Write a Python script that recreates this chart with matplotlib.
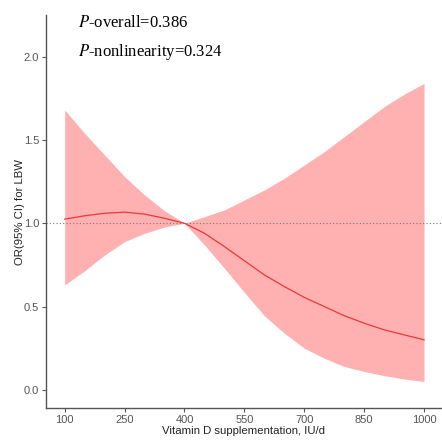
import numpy as np
import matplotlib
matplotlib.use("Agg")
import matplotlib.pyplot as plt

# values
dose = [100, 150, 200, 250, 300, 350, 400, 450, 500, 550, 600, 650, 700, 750, 800, 850, 900, 950, 1000]
odds = [1.025, 1.045, 1.06, 1.067, 1.055, 1.03, 1.0, 0.94, 0.86, 0.775, 0.69, 0.62, 0.555, 0.50, 0.445, 0.40, 0.36, 0.33, 0.30]
upper = [1.68, 1.54, 1.41, 1.28, 1.17, 1.075, 1.0, 1.04, 1.08, 1.14, 1.20, 1.27, 1.35, 1.43, 1.52, 1.61, 1.70, 1.775, 1.84]
lower = [0.63, 0.715, 0.81, 0.89, 0.94, 0.978, 1.0, 0.87, 0.73, 0.585, 0.445, 0.34, 0.25, 0.19, 0.14, 0.11, 0.085, 0.065, 0.05]
xticks = [100, 250, 400, 550, 700, 850, 1000]
yticks = [0.0, 0.5, 1.0, 1.5, 2.0]
p_overall = "0.386"
p_nonlin = "0.324"

plt.rcParams['font.family'] = ['Liberation Sans', 'DejaVu Sans']

fig = plt.figure(figsize=(4.42, 4.46), dpi=100)
ax = fig.add_axes([0.104, 0.085, 0.896, 0.881])

ax.fill_between(dose, lower, upper, color='#FFB0B0', linewidth=0)
ax.plot(dose, odds, color='#E8383D', linewidth=0.9)
ax.axhline(1.0, color='#777777', linestyle=(0, (1, 2)), linewidth=0.8)

ax.set_xlim(53, 1045)
ax.set_ylim(-0.11, 2.25)
ax.set_xticks(xticks)
ax.set_yticks(yticks)
ax.set_yticklabels([f"{v:.1f}" for v in yticks])

for s in ['top', 'right']:
    ax.spines[s].set_visible(False)
for s in ['left', 'bottom']:
    ax.spines[s].set_color('#555555')
    ax.spines[s].set_linewidth(1.0)
ax.tick_params(colors='#555555', labelcolor='#555555', labelsize=8, length=3, width=0.8, pad=2)

ax.set_xlabel('Vitamin D supplementation, IU/d', fontsize=8.2, color='#222222', labelpad=1)
ax.set_ylabel('OR(95% CI) for LBW', fontsize=8.2, color='#222222', va='center')
ax.yaxis.set_label_coords(-0.066, 0.5)

ax.text(132, 2.20, f"$P$-overall={p_overall}", fontsize=12, family='Liberation Serif',
        va='center', ha='left', math_fontfamily='stix')
ax.text(132, 2.03, f"$P$-nonlinearity={p_nonlin}", fontsize=12, family='Liberation Serif',
        va='center', ha='left', math_fontfamily='stix')

fig.savefig('out.png', dpi=100)
